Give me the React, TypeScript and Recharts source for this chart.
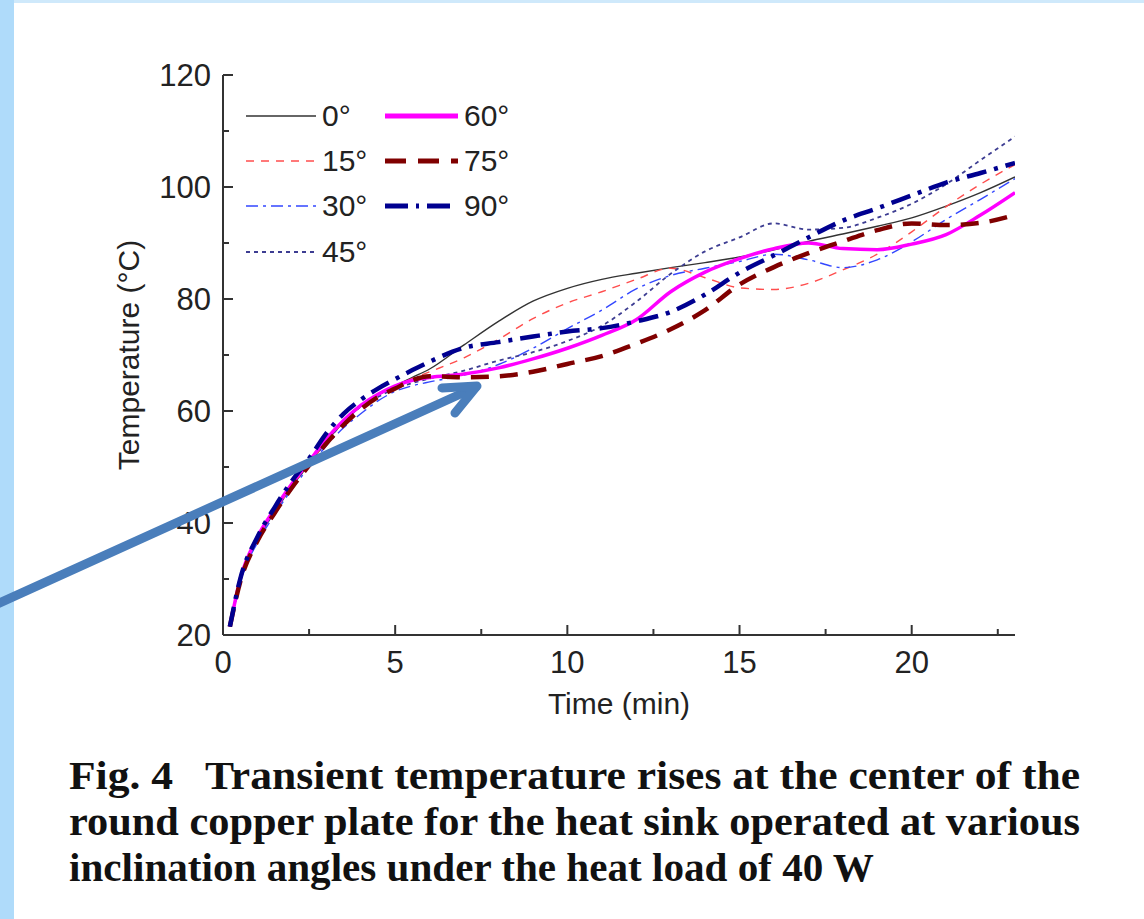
import React from 'react';
import { LineChart, Line, XAxis, YAxis, Legend } from 'recharts';

// time axis (min) shared by all curves
const TIME = [0.2, 0.5, 1, 1.5, 2, 2.5, 3, 3.5, 4, 4.5, 5, 5.5, 6, 7, 8, 9, 10, 11, 12, 13, 14, 15, 16, 17, 18, 19, 20, 21, 22, 23];

// temperature (°C) per inclination angle
const DEG_0 = [21.5, 29.5, 37, 42, 46.5, 50.5, 54.5, 58, 60.8, 62.8, 64.5, 66, 67.5, 71.8, 76, 79.6, 81.9, 83.5, 84.6, 85.6, 86.5, 87.5, 88.8, 90.3, 91.6, 93, 94.5, 96.6, 99, 101.8];
const DEG_15 = [21.5, 29.5, 37, 42, 46.5, 50.5, 54.5, 58, 60.8, 62.8, 64.5, 65.8, 67, 69.5, 72.8, 76.5, 79.3, 81.3, 83.5, 85.5, 83.8, 82, 81.7, 82.8, 85.2, 88, 92, 96.5, 100.5, 104];
const DEG_30 = [21.5, 29.5, 36.5, 41.5, 46, 50, 53.8, 57, 59.5, 61.8, 63.5, 64.5, 65.2, 66.4, 68.3, 71.2, 74.7, 78, 81.8, 84.2, 85.5, 86.7, 88, 87, 85.6, 87, 90.2, 94.2, 97.8, 101.5];
const DEG_45 = [21.5, 29.5, 37, 42, 46.5, 50.5, 54.5, 58, 60.8, 62.5, 64, 65, 65.8, 67.2, 69, 70.5, 72.5, 75.2, 79.5, 84.5, 88.5, 91, 93.5, 92.4, 92.7, 94.5, 97, 100.5, 104.8, 109];
const DEG_60 = [21.5, 30, 37.5, 42.5, 47, 51, 55, 58.3, 61, 63, 64.5, 65.5, 66, 66.6, 67.7, 69.3, 71.2, 73.5, 76.3, 81.3, 84.8, 87.2, 89, 90, 89, 88.8, 89.8, 91.5, 95, 99];
const DEG_75 = [21.5, 29.5, 36.8, 41.8, 46.3, 50.3, 54.2, 57.5, 60.3, 62.5, 64, 65.5, 66.2, 66, 66.2, 67, 68.4, 69.8, 72, 74.6, 78, 82.6, 85.7, 88.2, 90.3, 92.3, 93.5, 93.2, 93.6, 95];
const DEG_90 = [21.5, 30, 37.5, 42.8, 47.5, 51.5, 56, 59.5, 62, 64, 65.7, 67.3, 68.8, 71.3, 72.3, 73.3, 74.2, 74.8, 76, 77.7, 80.8, 84.7, 87.8, 91, 94, 96.2, 98.5, 100.8, 102.5, 104.3];

const X_TICKS = [0, 2.5, 5, 7.5, 10, 12.5, 15, 17.5, 20, 22.5];
const Y_TICKS = [20, 30, 40, 50, 60, 70, 80, 90, 100, 110, 120];

const CAPTION = [
  'Fig. 4   Transient temperature rises at the center of the',
  'round copper plate for the heat sink operated at various',
  'inclination angles under the heat load of 40 W',
];

const SERIES = [
  { key: 'd0', name: '0°', values: DEG_0, color: '#333333', width: 1.4, dash: undefined },
  { key: 'd15', name: '15°', values: DEG_15, color: '#ff4d4d', width: 1.4, dash: '8 7' },
  { key: 'd30', name: '30°', values: DEG_30, color: '#3347ff', width: 1.4, dash: '12 5 3 5' },
  { key: 'd45', name: '45°', values: DEG_45, color: '#3d3d92', width: 1.8, dash: '4 4' },
  { key: 'd60', name: '60°', values: DEG_60, color: '#ff00ff', width: 3.5, dash: undefined },
  { key: 'd75', name: '75°', values: DEG_75, color: '#800000', width: 4.5, dash: '18 11' },
  { key: 'd90', name: '90°', values: DEG_90, color: '#000090', width: 4.5, dash: '20 8 4 8' },
];

const data = TIME.map((t, i) => {
  const row: Record<string, number> = { t };
  SERIES.forEach((s) => (row[s.key] = s.values[i]));
  return row;
});

const W = 1144;
const H = 919;
const AXIS = '#333';
const FONT = 'Arial, "Liberation Sans", sans-serif';

const BottomTick = ({ x, y, payload }: any) => {
  const major = payload.value % 5 === 0;
  return (
    <g>
      <line x1={x} y1={y} x2={x} y2={y - (major ? 10 : 6)} stroke={AXIS} strokeWidth={2} />
      {major && (
        <text x={x} y={y + 38} textAnchor="middle" fontFamily={FONT} fontSize={31} fill="#222">
          {payload.value}
        </text>
      )}
    </g>
  );
};

const TopTick = ({ x, y, payload }: any) => {
  const major = payload.value % 5 === 0;
  return <line x1={x} y1={y} x2={x} y2={y + (major ? 10 : 6)} stroke={AXIS} strokeWidth={2} />;
};

const LeftTick = ({ x, y, payload }: any) => {
  const major = payload.value % 20 === 0;
  return (
    <g>
      <line x1={x} y1={y} x2={x + (major ? 10 : 6)} y2={y} stroke={AXIS} strokeWidth={2} />
      {major && (
        <text x={x - 12} y={y + 11} textAnchor="end" fontFamily={FONT} fontSize={31} fill="#222">
          {payload.value}
        </text>
      )}
    </g>
  );
};

const RightTick = ({ x, y, payload }: any) => {
  const major = payload.value % 20 === 0;
  return <line x1={x} y1={y} x2={x - (major ? 10 : 6)} y2={y} stroke={AXIS} strokeWidth={2} />;
};

const YTitle = ({ viewBox }: any) => {
  const cx = viewBox.x - 24;
  const cy = viewBox.y + viewBox.height / 2;
  return (
    <text x={cx} y={cy} transform={`rotate(-90 ${cx} ${cy})`} textAnchor="middle" fontFamily={FONT} fontSize={30} fill="#222">
      Temperature (°C)
    </text>
  );
};

const XTitle = ({ viewBox }: any) => (
  <text x={viewBox.x + viewBox.width / 2} y={viewBox.y + 79} textAnchor="middle" fontFamily={FONT} fontSize={30} fill="#222">
    Time (min)
  </text>
);

// legend drawn in two columns inside the plot
const LegendBox = () => {
  const rows = [26, 71, 116, 162];
  return (
    <svg width={300} height={185} style={{ overflow: 'visible' }}>
      {SERIES.map((s, i) => {
        const col = i < 4 ? 0 : 1;
        const y = rows[i < 4 ? i : i - 4];
        const x0 = col === 0 ? 6 : 145;
        const x1 = col === 0 ? 76 : 218;
        const thick = s.width > 3;
        return (
          <g key={s.key}>
            <line
              x1={x0}
              y1={y}
              x2={x1}
              y2={y}
              stroke={s.color}
              strokeWidth={thick ? 5 : s.width}
              strokeDasharray={s.key === 'd75' ? '21 12' : s.key === 'd90' ? '23 8 3 8' : s.dash}
            />
            <text x={x1 + 6} y={y + 10} fontFamily={FONT} fontSize={30} fill="#222">
              {s.name}
            </text>
          </g>
        );
      })}
    </svg>
  );
};

export default function App() {
  return (
    <div style={{ position: 'absolute', left: 0, top: 0, width: W, height: H, background: '#cfe9fb', overflow: 'hidden' }}>
      <div style={{ position: 'absolute', left: 0, top: 0, width: 14, height: H, background: '#afdbfa' }} />
      <div style={{ position: 'absolute', left: 14, top: 3, right: 0, bottom: 0, background: '#ffffff' }} />
      <div style={{ position: 'absolute', left: 0, top: 0 }}>
        <LineChart width={W} height={H} data={data} margin={{ top: 75, right: 129, bottom: 224, left: 163 }}>
          <XAxis
            dataKey="t"
            type="number"
            domain={[0, 23]}
            allowDataOverflow
            ticks={X_TICKS}
            interval={0}
            height={60}
            tickSize={0}
            tickMargin={0}
            tickLine={false}
            tick={(p: any) => <BottomTick {...p} />}
            axisLine={{ stroke: AXIS, strokeWidth: 2 }}
            label={XTitle}
          />
          <XAxis
            xAxisId="top"
            orientation="top"
            dataKey="t"
            type="number"
            domain={[0, 23]}
            allowDataOverflow
            ticks={X_TICKS}
            interval={0}
            height={0}
            tickSize={0}
            tickMargin={0}
            tickLine={false}
            tick={(p: any) => <TopTick {...p} />}
            axisLine={{ stroke: AXIS, strokeWidth: 2 }}
          />
          <YAxis
            type="number"
            domain={[20, 120]}
            allowDataOverflow
            ticks={Y_TICKS}
            interval={0}
            width={60}
            tickSize={0}
            tickMargin={0}
            tickLine={false}
            tick={(p: any) => <LeftTick {...p} />}
            axisLine={{ stroke: AXIS, strokeWidth: 2 }}
            label={YTitle}
          />
          <YAxis
            yAxisId="right"
            orientation="right"
            type="number"
            domain={[20, 120]}
            allowDataOverflow
            ticks={Y_TICKS}
            interval={0}
            width={0}
            tickSize={0}
            tickMargin={0}
            tickLine={false}
            tick={(p: any) => <RightTick {...p} />}
            axisLine={{ stroke: AXIS, strokeWidth: 2 }}
          />
          {SERIES.map((s) => (
            <Line
              key={s.key}
              dataKey={s.key}
              name={s.name}
              type="monotone"
              stroke={s.color}
              strokeWidth={s.width}
              strokeDasharray={s.dash}
              dot={false}
              activeDot={false}
              isAnimationActive={false}
            />
          ))}
          <Legend
            layout="vertical"
            align="center"
            verticalAlign="middle"
            wrapperStyle={{ left: 240, top: 90, width: 300, height: 185 }}
            content={() => <LegendBox />}
          />
        </LineChart>
      </div>
      <svg width={W} height={H} style={{ position: 'absolute', left: 0, top: 0, pointerEvents: 'none' }}>
        {/* annotation arrow */}
        <line x1={-5} y1={605} x2={476} y2={387} stroke="#4a7ebb" strokeWidth={9} strokeLinecap="round" />
        <polyline points="442,388 477,386 455,413" fill="none" stroke="#4a7ebb" strokeWidth={9} strokeLinecap="round" strokeLinejoin="round" />
        {CAPTION.map((line, i) => (
          <text
            key={i}
            x={69}
            y={789 + i * 46}
            textLength={i < 2 ? 1011 : 805}
            lengthAdjust="spacingAndGlyphs"
            fontFamily='"Liberation Serif", "Times New Roman", serif'
            fontWeight="bold"
            fontSize={39}
            fill="#111"
            style={{ whiteSpace: 'pre' }}
          >
            {line}
          </text>
        ))}
      </svg>
    </div>
  );
}
